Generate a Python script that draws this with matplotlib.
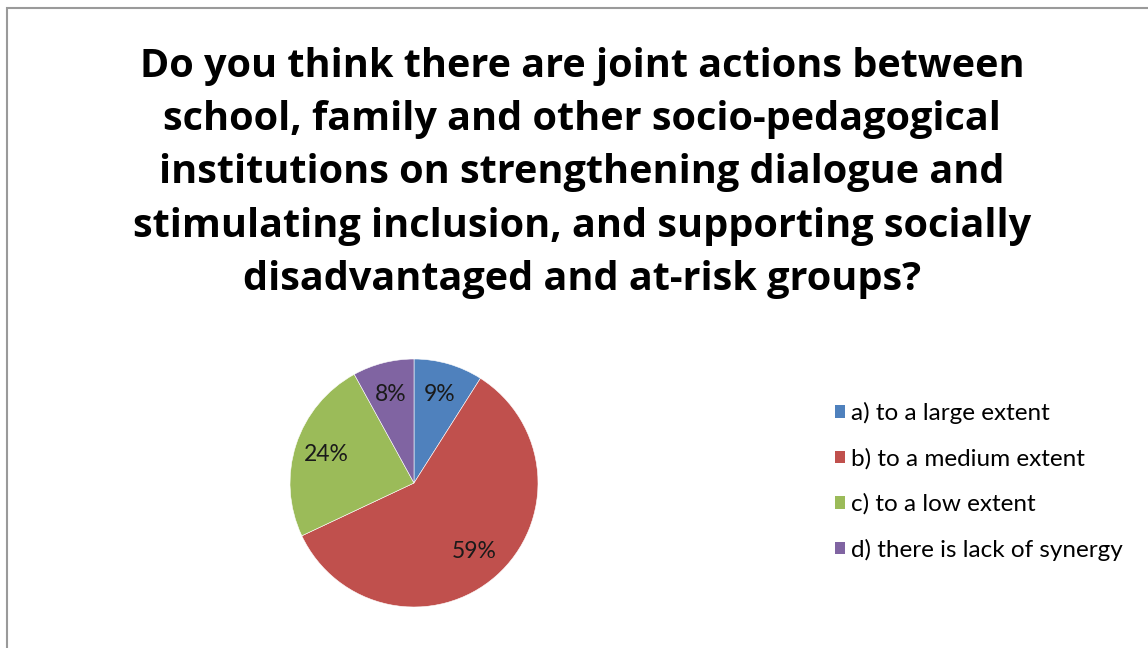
import matplotlib.pyplot as plt
from matplotlib.patches import Rectangle, Patch

TITLE = ('Do you think there are joint actions between\n'
         'school, family and other socio-pedagogical\n'
         'institutions on strengthening dialogue and\n'
         'stimulating inclusion, and supporting socially\n'
         'disadvantaged and at-risk groups?')
labels = ['a) to a large extent', 'b) to a medium extent',
          'c) to a low extent', 'd) there is lack of synergy']
values = [9, 59, 24, 8]
colors = ['#4F81BD', '#C0504D', '#9BBB59', '#8064A2']

W, H = 1148, 648
fig = plt.figure(figsize=(W / 100, H / 100), dpi=100)

# frame of the chart area (right / bottom edges are cut off in the source)
fig.patches.append(Rectangle((7 / W, -0.1), 1.2, 1 - 8 / H + 0.1,
                             transform=fig.transFigure, fill=False,
                             edgecolor='#9a9a9a', linewidth=1.5))

fig.text(582 / W, 1 - 173 / H, TITLE, ha='center', va='center',
         fontsize=28.5, fontweight='bold', family='Open Sans',
         linespacing=1.47, color='black')

R = 124
cx, cy = 414, H - 483
ax = fig.add_axes([(cx - R) / W, (cy - R) / H, 2 * R / W, 2 * R / H])
wedges, texts, autotexts = ax.pie(
    values, colors=colors, startangle=90, counterclock=False,
    autopct=lambda p: '%d%%' % round(p), pctdistance=0.74, radius=1,
    wedgeprops=dict(edgecolor='white', linewidth=0.4),
    textprops=dict(fontsize=16.5, family='Lato', color='#1a1a1a'))
ax.set_xlim(-1, 1)
ax.set_ylim(-1, 1)
ax.set_aspect('equal')

handles = [Patch(facecolor=c, edgecolor='none') for c in colors]
fig.legend(handles, labels, loc='upper left',
           bbox_to_anchor=(823 / W, 1 - 390 / H), frameon=False,
           prop=dict(family='Lato', size=17.5), labelspacing=0.98,
           handlelength=0.42, handleheight=0.42, handletextpad=0.25,
           borderpad=0)

fig.savefig('out.png', dpi=100, facecolor='white')
